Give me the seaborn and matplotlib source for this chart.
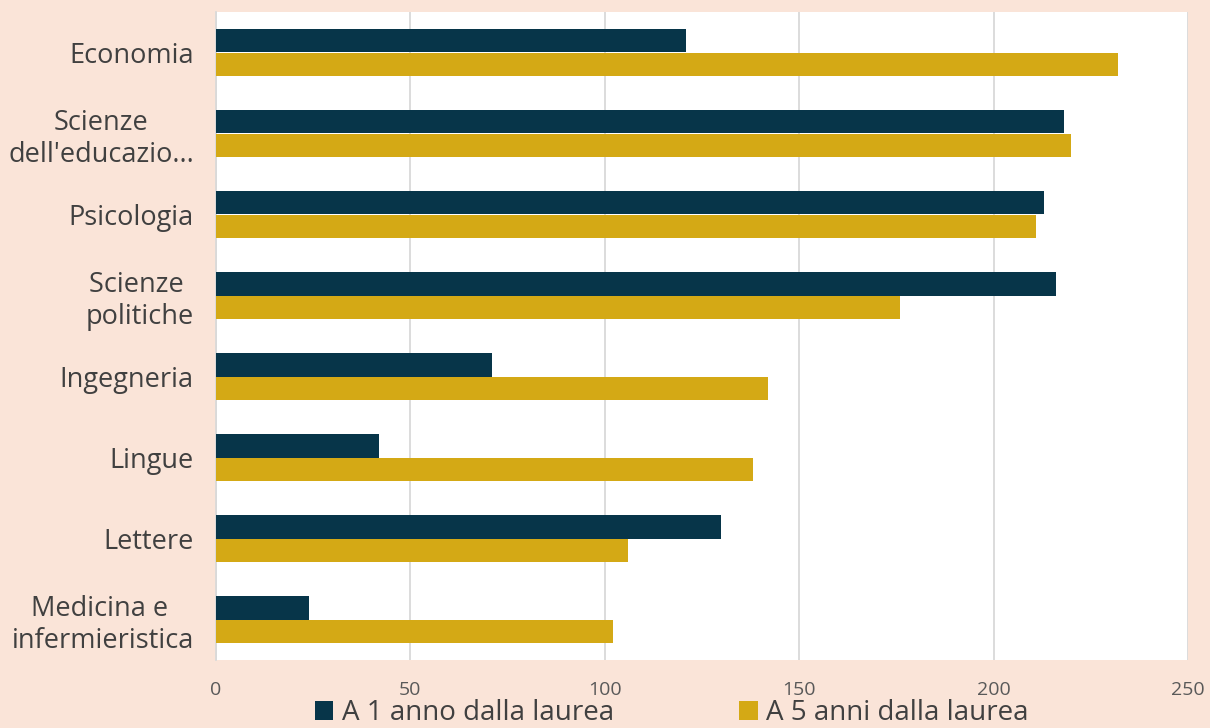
import matplotlib
matplotlib.use("Agg")
import matplotlib.pyplot as plt
import seaborn as sns
import pandas as pd

categories = ["Economia", "Scienze\ndell'educazio...", "Psicologia", "Scienze \npolitiche",
              "Ingegneria", "Lingue", "Lettere", "Medicina e \ninfermieristica"]
series_names = ["A 1 anno dalla laurea", "A 5 anni dalla laurea"]
vals_1 = [121, 218, 213, 216, 71, 42, 130, 24]
vals_5 = [232, 220, 211, 176, 142, 138, 106, 102]
x_ticks = [0, 50, 100, 150, 200, 250]

df = pd.DataFrame({
    "cat": categories * 2,
    "serie": [series_names[0]] * len(categories) + [series_names[1]] * len(categories),
    "val": vals_1 + vals_5,
})

sns.set_theme(style="white")
plt.rcParams["font.family"] = ["Open Sans", "DejaVu Sans"]

bg = "#fae4d8"
fig = plt.figure(figsize=(12.1, 7.28), dpi=100, facecolor=bg)
ax = fig.add_axes([216 / 1210, 68 / 728, 972 / 1210, 648 / 728])
ax.set_facecolor("white")

sns.barplot(data=df, y="cat", x="val", hue="serie", orient="h",
            palette=["#073549", "#d4a915"], width=0.57, ax=ax,
            errorbar=None, saturation=1, linewidth=0, zorder=3)

ax.set_xlim(0, 250)
ax.set_xticks(x_ticks)
ax.set_xticklabels([str(t) for t in x_ticks], fontsize=14, color="#595959")
ax.xaxis.grid(True, color="#d9d9d9", linewidth=1.3, zorder=0)
ax.set_axisbelow(True)
ax.tick_params(axis="x", length=0, pad=15)
ax.tick_params(axis="y", length=0, pad=16)
for lab in ax.get_yticklabels():
    lab.set_fontsize(19.5)
    lab.set_color("#404040")
    lab.set_multialignment("center")
ax.set_xlabel("")
ax.set_ylabel("")
for s in ["top", "right", "bottom"]:
    ax.spines[s].set_visible(False)
ax.spines["left"].set_color("#d9d9d9")
ax.spines["left"].set_linewidth(1.3)

handles, labels = ax.get_legend_handles_labels()
ax.legend_.remove()
fig.legend(handles, labels, loc="center", bbox_to_anchor=(0.5555, 0.02), ncol=2,
           frameon=False, fontsize=20, labelcolor="#404040", handlelength=0.65,
           handleheight=0.65, handletextpad=0.32, columnspacing=4.5,
           borderpad=0, borderaxespad=0)

fig.savefig("out.png", dpi=100, facecolor=bg)
